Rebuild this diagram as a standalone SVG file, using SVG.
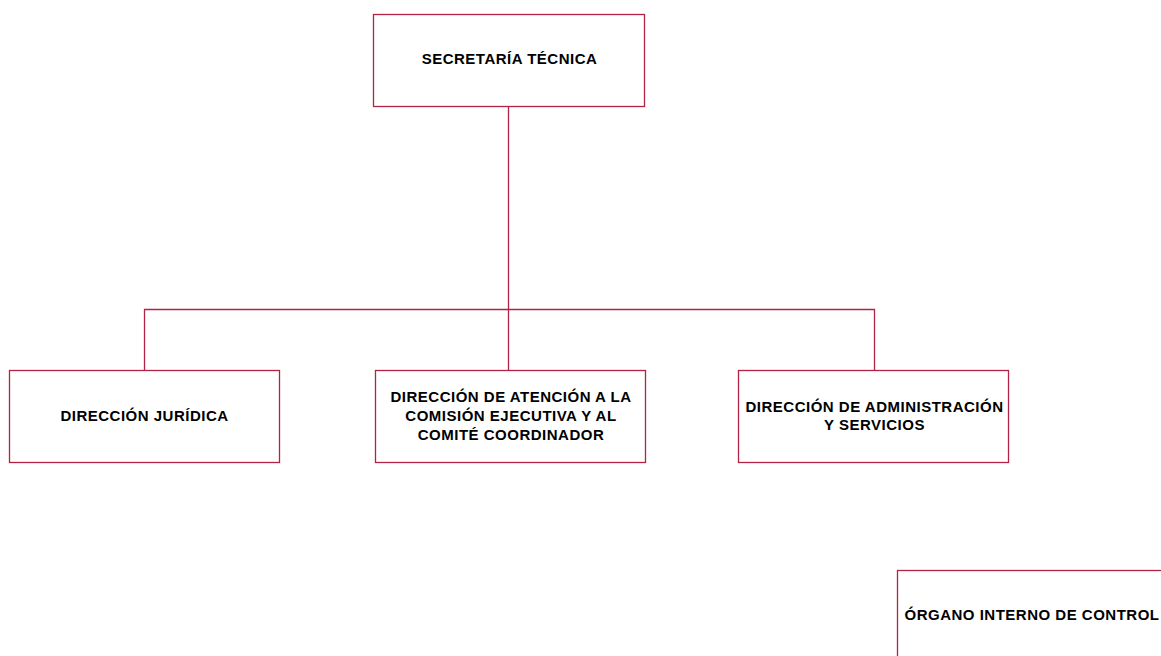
<svg xmlns="http://www.w3.org/2000/svg" width="1161" height="656" viewBox="0 0 1161 656">
<style>
.box{fill:#fff;stroke:#B22244;stroke-width:1.3}
.ln{fill:none;stroke:#B22244;stroke-width:1.3}
text{font-family:"Liberation Sans",Arial,sans-serif;font-weight:bold;font-size:15px;letter-spacing:0.5px;fill:#000;text-anchor:middle;dominant-baseline:central}
</style>
<rect width="1161" height="656" fill="#fff"/>
<g id="connectors">
<path class="ln" d="M508.5 106V370"/>
<path class="ln" d="M144.5 370V309.5H874.5V370"/>
</g>
<g id="n-secretaria">
<rect class="box" x="373.5" y="14.5" width="271" height="92"/>
<text x="509.5" y="58">SECRETARÍA TÉCNICA</text>
</g>
<g id="n-juridica">
<rect class="box" x="9.5" y="370.5" width="270" height="92"/>
<text x="144.5" y="415">DIRECCIÓN JURÍDICA</text>
</g>
<g id="n-atencion">
<rect class="box" x="375.5" y="370.5" width="270" height="92"/>
<text x="511" y="396">DIRECCIÓN DE ATENCIÓN A LA</text>
<text x="511" y="415">COMISIÓN EJECUTIVA Y AL</text>
<text x="511" y="434">COMITÉ COORDINADOR</text>
</g>
<g id="n-administracion">
<rect class="box" x="738.5" y="370.5" width="270" height="92"/>
<text x="874.5" y="406">DIRECCIÓN DE ADMINISTRACIÓN</text>
<text x="874.5" y="424">Y SERVICIOS</text>
</g>
<g id="n-organo">
<rect class="box" x="897.5" y="570.5" width="270" height="92"/>
<text x="1032" y="614">ÓRGANO INTERNO DE CONTROL</text>
</g>
</svg>
